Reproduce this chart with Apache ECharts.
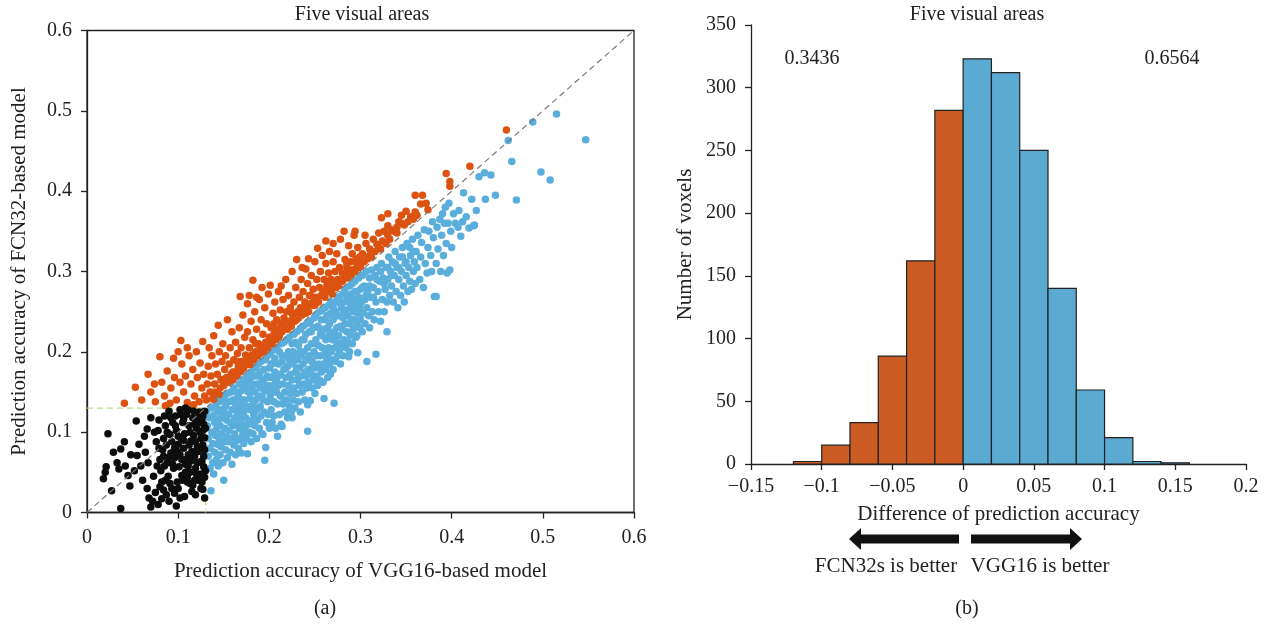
<!DOCTYPE html>
<html>
<head>
<meta charset="utf-8">
<script src="https://cdn.jsdelivr.net/npm/echarts@6/dist/echarts.min.js"></script>
<style>
  html, body { margin: 0; padding: 0; background: #fff; }
  #chart { width: 1273px; height: 627px; }
</style>
</head>
<body>
<div id="chart"></div>
<script>
const SERIF = '"Liberation Serif", "DejaVu Serif", serif';

// (a) scatter, points are [VGG16 accuracy, FCN32 accuracy] in thousandths
const bothLow = [
  [18,42],[21,57],[23,98],[20,50],[27,27],[29,75],[33,62],[35,54],[37,5],[37,79],[41,88],[42,58],[45,46],[47,33],[48,72],[52,52],
  [54,114],[55,71],[57,85],[59,58],[61,40],[63,95],[66,104],[68,18],[70,7],[72,14],[75,25],[70,118],[64,75],[67,62],[66,30],[73,45],
  [76,88],[78,102],[79,115],[80,66],[81,52],[82,38],[83,78],[84,92],[85,120],[77,58],[84,28],[80,32],[78,10],[82,17],
  [86,108],[87,84],[88,62],[89,45],[90,126],[91,97],[92,74],[93,30],[94,112],[95,55],[87,22],[90,14],[93,88],[86,40],
  [96,68],[97,120],[98,102],[99,38],[100,85],[101,57],[102,128],[103,93],[104,46],[105,112],[96,24],[99,76],[102,18],[104,66],[98,8],[100,30],
  [106,80],[107,98],[108,60],[109,122],[110,38],[111,72],[112,108],[113,50],[114,89],[115,26],[106,116],[108,130],[110,44],[112,84],[114,64],[107,20],
  [116,118],[117,96],[118,70],[119,55],[120,105],[121,82],[122,40],[123,125],[124,63],[125,92],[116,34],[118,110],[120,48],[122,76],[124,100],[119,22],[125,30],
  [126,115],[127,84],[128,57],[129,126],[127,102],[128,70],[129,44],[126,38],[129,93],[127,120],[128,110],[126,64],[129,78],[130,105],[130,52],[127,29],[129,18],
  [92,118],[97,108],[103,122],[111,128],[117,126],[121,118],[124,112],[100,95],[106,90],[113,100],[119,88],[109,66],[115,76],[96,80],[90,68],
  [84,70],[88,100],[94,60],[102,72],[108,50],[113,36],[121,62],[125,48],[118,40],[111,58],[105,40],[91,36],[85,58],[79,80],[74,100]
];

const fcnBetter = [
  [41,136],[53,156],[67,172],[80,194],[95,192],[103,214],[100,200],[127,213],[60,140],[70,150],[75,138],[82,162],[85,145],[88,176],[92,155],
  [96,168],[98,140],[104,185],[106,150],[108,170],[110,137],[112,195],[114,160],[116,178],[118,145],[120,200],[121,168],[123,138],[124,186],
  [126,155],[128,172],[129,145],[91,136],[74,160],[110,205],[117,134],[102,162],[86,133],
  [131,140],[132,160],[133,182],[134,205],[135,150],[136,170],[137,195],[138,142],[139,220],[140,160],[141,185],[142,148],[143,172],[144,233],
  [145,200],[146,155],[147,165],[148,188],[149,210],[150,158],[151,178],[152,195],[153,168],[154,240],[155,162],[156,185],[157,205],[158,172],
  [159,225],[160,165],[139,141],[145,147],
  [161,190],[162,175],[163,212],[164,170],[165,198],[166,182],[167,230],[168,269],[168,175],[169,205],[170,188],[171,246],[172,180],[173,218],
  [174,196],[175,185],[176,260],[176,225],[177,192],[178,205],[179,184],[180,238],[181,196],[182,289],[182,215],[183,190],[184,250],[185,200],
  [186,228],[187,195],[188,210],[189,265],[190,198],[191,240],[192,205],[193,222],[194,200],[195,255],[196,212],[197,235],[198,205],[199,272],
  [200,218],[186,268],[178,270],[192,280],
  [201,283],[202,230],[203,210],[204,248],[205,222],[206,262],[207,215],[208,240],[209,228],[210,275],[211,220],[212,252],[213,235],[214,225],
  [215,265],[216,242],[217,230],[218,290],[219,250],[220,228],[221,270],[222,238],[223,255],[224,232],[225,300],[226,245],[227,262],[228,238],
  [229,280],[230,315],[231,250],[232,242],[233,268],[234,255],[235,290],[236,246],[237,275],[238,250],[239,262],[240,303],[241,256],[242,285],
  [243,250],[244,270],[245,260],[246,295],[247,258],[248,278],[249,265],[250,312],[236,305],[243,316],[213,282],
  [251,268],[252,290],[253,329],[254,262],[255,280],[256,300],[257,270],[258,320],[259,275],[260,290],[261,268],[262,310],[263,282],[264,275],
  [265,298],[266,325],[267,280],[268,290],[269,272],[270,312],[271,285],[272,300],[273,280],[274,322],[275,290],[276,282],[277,305],[278,340],
  [279,288],[280,298],[281,290],[282,350],[283,315],[284,295],[285,305],[286,292],[287,332],[288,300],[289,312],[290,296],[291,322],[292,302],
  [293,345],[294,300],[295,315],[296,308],[297,330],[298,305],[299,318],[300,306],[294,350],[305,345],[270,335],[262,338],
  [302,322],[304,312],[306,335],[308,316],[310,328],[312,318],[314,340],[316,325],[318,334],[320,348],[322,328],[324,338],[326,350],[328,335],
  [330,357],[332,340],[323,367],[330,372],[334,352],[337,350],[340,348],[342,362],[345,370],[348,358],[350,375],[352,362],[355,368],[358,365],
  [360,374],[362,370],[345,360],[360,395],[368,395],[366,384],[372,385],[374,377],
  [394,422],[398,412],[398,406],[420,431],[460,476],
  [140,150],[150,166],[160,175],[170,178],[180,192],[190,205],[200,210],[210,218],[220,235],[230,240],[240,248],[250,258],[260,272],[270,280],
  [280,288],[290,302],[300,315],[310,320],[320,330],[330,345],[340,355],[165,188],[185,210],[205,235],[225,248],[245,270],[265,288],[285,310]
];

const vggBetter = [
  [131,125],[132,108],[133,92],[133,70],[134,118],[135,80],[135,55],[136,27],[136,130],[137,100],[138,62],[138,86],[139,121],[139,48],[140,112],
  [140,75],[141,96],[141,133],[142,66],[142,104],[143,85],[143,125],[144,58],[144,115],[145,92],[145,138],[146,72],[146,108],[147,128],[147,82],
  [148,98],[148,118],[149,62],[149,140],[150,40],[150,88],[150,125],
  [151,105],[151,145],[152,78],[152,132],[153,95],[153,115],[154,68],[154,148],[155,122],[155,88],[156,102],[156,138],[157,75],[157,112],[158,150],
  [158,92],[159,128],[159,60],[160,108],[160,140],[161,84],[161,155],[162,118],[162,98],[163,72],[163,135],[164,110],[164,150],[165,90],[165,125],
  [166,80],[166,145],[167,105],[167,160],[168,118],[168,92],[169,135],[169,74],[170,152],[170,110],[171,98],[171,165],[172,125],[172,86],[173,140],
  [173,105],[174,158],[174,118],[175,92],[175,170],[176,73],[176,132],[177,110],[177,150],
  [178,100],[178,165],[179,128],[179,142],[180,88],[180,175],[181,115],[181,155],[182,135],[182,98],[183,170],[183,122],[184,108],[184,150],[185,180],
  [185,140],[186,92],[186,128],[187,160],[187,115],[188,185],[188,145],[189,105],[189,172],[190,132],[190,155],[191,120],[191,188],[192,98],[192,165],
  [193,97],[193,140],[194,178],[194,125],[195,65],[195,152],[196,81],[196,190],[197,112],[197,168],[198,138],[198,195],[199,122],[199,158],[200,105],[200,180],
  [201,145],[201,198],[202,128],[202,168],[203,112],[203,185],[204,155],[204,202],[205,138],[205,120],[206,175],[206,192],[207,150],[207,105],[208,165],
  [208,205],[209,95],[209,135],[210,185],[210,158],[211,122],[211,200],[212,145],[212,172],[213,110],[213,210],[214,107],[214,188],[215,160],[215,135],
  [216,178],[216,212],[217,125],[217,150],[218,195],[218,168],[219,140],[219,215],[220,118],[220,182],[221,158],[221,200],[222,132],[222,218],[223,172],
  [223,148],[224,192],[224,125],[225,118],[225,165],[225,210],
  [226,185],[226,140],[227,222],[227,155],[228,198],[228,130],[229,175],[229,212],[230,148],[230,225],[231,165],[231,190],[232,138],[232,208],[233,180],
  [233,158],[234,228],[234,125],[235,195],[235,170],[236,150],[236,215],[237,185],[237,232],[238,160],[238,200],[239,140],[239,175],[240,222],[240,190],
  [241,155],[241,235],[242,101],[242,134],[242,205],[243,178],[243,162],[244,225],[244,195],[245,139],[245,238],[246,172],[246,210],[247,155],[247,188],
  [248,230],[248,165],[249,200],[249,242],[250,180],[250,148],
  [251,215],[251,245],[252,170],[252,195],[253,232],[253,158],[254,208],[254,185],[255,250],[255,165],[256,222],[256,195],[257,175],[257,240],[258,205],
  [258,252],[259,185],[259,162],[260,142],[260,228],[261,198],[261,255],[262,215],[262,178],[263,245],[263,190],[264,168],[264,230],[265,205],[265,258],
  [266,185],[266,222],[267,248],[267,172],[268,200],[268,262],[269,215],[269,190],[270,240],[270,178],[271,136],[271,225],[272,262],[272,205],[273,188],
  [273,250],[274,230],[274,212],[275,268],[275,195],
  [276,245],[276,220],[277,202],[277,268],[278,232],[278,185],[279,255],[279,210],[280,272],[280,228],[281,242],[281,195],[282,262],[282,215],[283,278],
  [283,235],[284,205],[284,252],[285,225],[285,270],[286,245],[286,212],[287,194],[287,262],[288,235],[288,282],[289,220],[289,255],[290,240],[290,272],
  [291,210],[291,285],[292,250],[292,228],[293,265],[293,240],[294,218],[294,288],[295,218],[295,258],[296,235],[296,275],[297,199],[297,248],[298,268],
  [298,292],[299,230],[299,255],[300,278],[300,240],
  [301,262],[302,295],[302,225],[303,248],[304,282],[305,265],[305,235],[306,300],[307,188],[307,255],[308,275],[309,245],[310,292],[310,230],[311,268],
  [312,302],[313,250],[314,280],[315,240],[316,295],[317,197],[317,262],[318,305],[319,275],[320,250],[321,288],[322,238],[323,310],[324,265],[325,292],
  [326,250],[327,278],[328,305],[329,225],[329,262],[330,290],[331,318],[332,270],
  [333,300],[334,282],[335,312],[336,262],[337,295],[338,325],[339,275],[340,305],[341,255],[342,290],[343,318],[344,270],[345,300],[346,330],[347,282],
  [348,262],[349,310],[350,295],[351,335],[352,275],[353,305],[354,288],[355,320],[356,278],[357,340],[358,300],[359,312],[360,285],
  [361,325],[362,305],[363,345],[365,290],[366,318],[367,336],[369,280],[370,352],[371,310],[373,298],[374,330],[375,350],[377,320],[378,300],[379,362],
  [380,342],[381,269],[383,310],[384,355],[385,328],[387,365],[388,300],[389,345],[390,372],[391,320],[392,360],[393,380],[394,335],[395,298],[396,360],
  [397,385],[398,302],[399,350],[400,330],[402,372],[404,360],[407,355],[408,376],[410,344],[412,362],[416,368],[419,354],[422,390],[425,358],[427,376],
  [430,418],[436,423],[443,420],[448,395],[437,390],[413,398],[424,357],[383,269],
  [462,463],[466,437],[471,389],[489,486],[498,424],[508,414],[515,496],[547,464],
  [162,140],[166,130],[170,140],[174,130],[178,150],[182,160],[186,170],[190,175],[194,160],[198,170],[202,185],[206,160],[210,170],[214,195],
  [218,180],[222,190],[226,200],[230,180],[234,200],[238,215],[242,190],[246,225],[250,210],[254,230],[258,220],[262,240],[266,235],[270,255],
  [274,245],[278,260],[282,250],[286,270],[290,262],[294,275],[298,260],[302,280],[306,270],[310,282],[314,268],[318,290],[322,300],[326,285],
  [330,305],[334,295],[338,310],[342,305],[346,318],[350,312],[354,330],[358,325],[184,130],[192,145],[200,150],[208,150],[216,140],[224,150],
  [232,170],[240,170],[248,185],[256,180],[264,195],[272,220],[280,210],[288,200],[296,220]
];

const lowCut = 0.13;

// (b) histogram of accuracy differences
const binStarts = [-0.12, -0.10, -0.08, -0.06, -0.04, -0.02, 0.00, 0.02, 0.04, 0.06, 0.08, 0.10, 0.12, 0.14];
const binCounts = [2, 15, 33, 86, 162, 282, 323, 312, 250, 140, 59, 21, 2, 1];
const binWidth = 0.02;
const shareFcn = '0.3436';
const shareVgg = '0.6564';

const INK = '#222';
const toAcc = pts => pts.map(p => [p[0] / 1000, p[1] / 1000]);

function axisStyle(extra) {
  return Object.assign({
    type: 'value',
    axisLine: { show: true, onZero: false, lineStyle: { color: INK, width: 1.3 } },
    axisTick: { show: true, inside: false, length: 6, lineStyle: { color: INK, width: 1.3 } },
    axisLabel: { color: INK, fontFamily: SERIF, fontSize: 20, margin: 15 },
    splitLine: { show: false },
    nameLocation: 'middle',
    nameTextStyle: { color: INK, fontFamily: SERIF, fontSize: 21 }
  }, extra);
}

const signed = v => {
  const r = +(+v).toFixed(2);
  return (r < 0 ? '\u2212' : '') + Math.abs(r);
};

function textEl(x, y, text, size) {
  return {
    type: 'text', x: x, y: y,
    style: { text: text, fill: INK, font: (size || 20) + 'px ' + SERIF, textAlign: 'center', textVerticalAlign: 'middle' }
  };
}

const chart = echarts.init(document.getElementById('chart'));

chart.setOption({
  animation: false,
  backgroundColor: '#fff',
  grid: [
    { left: 87, top: 30.5, width: 547, height: 482, show: true, borderColor: INK, borderWidth: 1.3 },
    { left: 751, top: 25, width: 495, height: 439 }
  ],
  xAxis: [
    axisStyle({ gridIndex: 0, min: 0, max: 0.6, interval: 0.1, name: 'Prediction accuracy of VGG16-based model', nameGap: 48 }),
    axisStyle({ gridIndex: 1, min: -0.15, max: 0.2, interval: 0.05, name: 'Difference of prediction accuracy', nameGap: 40,
      axisLabel: { color: INK, fontFamily: SERIF, fontSize: 20, margin: 13, formatter: signed } })
  ],
  yAxis: [
    axisStyle({ gridIndex: 0, min: 0, max: 0.6, interval: 0.1, name: 'Prediction accuracy of FCN32-based model', nameGap: 57 }),
    axisStyle({ gridIndex: 1, min: 0, max: 350, interval: 50, name: 'Number of voxels', nameGap: 55 })
  ],
  series: [
    {
      type: 'line', xAxisIndex: 0, yAxisIndex: 0, symbol: 'none', silent: true, z: 1,
      lineStyle: { color: '#b9e08e', width: 1.3, type: [6, 4] },
      data: [[0, lowCut], [lowCut, lowCut], [lowCut, 0]]
    },
    {
      type: 'scatter', xAxisIndex: 0, yAxisIndex: 0, symbolSize: 7.5, z: 2,
      itemStyle: { color: '#5aaedb', opacity: 1 }, data: toAcc(vggBetter)
    },
    {
      type: 'scatter', xAxisIndex: 0, yAxisIndex: 0, symbolSize: 7.5, z: 3,
      itemStyle: { color: '#dc5210', opacity: 1 }, data: toAcc(fcnBetter)
    },
    {
      type: 'scatter', xAxisIndex: 0, yAxisIndex: 0, symbolSize: 7.5, z: 4,
      itemStyle: { color: '#0d0d0d', opacity: 1 }, data: toAcc(bothLow)
    },
    {
      type: 'line', xAxisIndex: 0, yAxisIndex: 0, symbol: 'none', silent: true, z: 5,
      lineStyle: { color: '#7a7a7a', width: 1.2, type: [6, 4] },
      data: [[0, 0], [0.6, 0.6]]
    },
    {
      type: 'custom', xAxisIndex: 1, yAxisIndex: 1,
      data: binStarts.map((s, i) => [s, binCounts[i]]),
      encode: { x: 0, y: 1 },
      renderItem: (params, api) => {
        const start = api.value(0);
        const top = api.coord([start, api.value(1)]);
        const base = api.coord([start + binWidth, 0]);
        return {
          type: 'rect',
          shape: { x: top[0], y: top[1], width: base[0] - top[0], height: base[1] - top[1] },
          style: { fill: start < -1e-9 ? '#cb5c24' : '#5aaad2', stroke: INK, lineWidth: 1.2 }
        };
      }
    }
  ],
  graphic: [
    textEl(362, 15, 'Five visual areas', 20),
    textEl(977, 15, 'Five visual areas', 20),
    textEl(812, 59, shareFcn),
    textEl(1172, 59, shareVgg),
    textEl(886, 566, 'FCN32s is better', 21),
    textEl(1040, 566, 'VGG16 is better', 21),
    textEl(325, 609, '(a)'),
    textEl(967, 609, '(b)'),
    {
      type: 'polygon',
      shape: { points: [[849, 539], [861, 528], [861, 534.5], [959, 534.5], [959, 543.5], [861, 543.5], [861, 550]] },
      style: { fill: '#111' }
    },
    {
      type: 'polygon',
      shape: { points: [[971, 534.5], [1070, 534.5], [1070, 528], [1082, 539], [1070, 550], [1070, 543.5], [971, 543.5]] },
      style: { fill: '#111' }
    }
  ]
});
</script>
</body>
</html>
